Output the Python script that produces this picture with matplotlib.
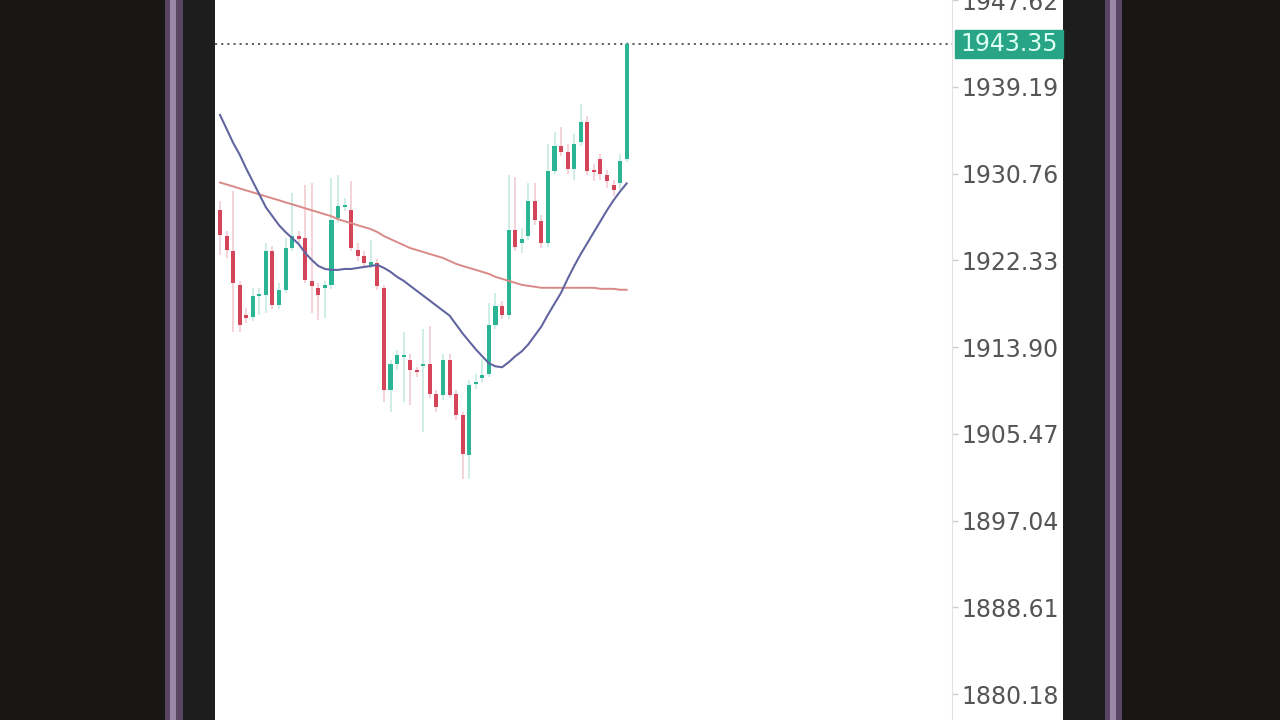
import numpy as np
import matplotlib.pyplot as plt
from matplotlib.patches import Rectangle
import matplotlib.transforms as mtransforms

# candle data, one entry per bar
opens = [1927.19, 1924.68, 1923.23, 1919.95, 1917.05, 1916.86, 1918.89, 1918.99, 1923.23, 1918.02,
         1919.47, 1923.52, 1924.68, 1924.49, 1920.34, 1919.66, 1919.66, 1919.95, 1926.42, 1927.48,
         1927.19, 1923.33, 1922.75, 1921.88, 1922.07, 1919.66, 1909.72, 1912.23, 1912.90, 1912.61,
         1911.65, 1912.03, 1912.23, 1909.33, 1909.24, 1912.61, 1909.33, 1907.31, 1903.44, 1910.30,
         1910.88, 1911.26, 1916.09, 1917.92, 1917.05, 1925.26, 1924.00, 1924.68, 1928.06, 1926.13,
         1924.00, 1931.05, 1933.46, 1932.89, 1931.24, 1933.85, 1935.78, 1931.05, 1932.21, 1930.57,
         1929.60, 1929.80, 1932.21]
closes = [1924.78, 1923.33, 1920.14, 1916.09, 1916.76, 1918.89, 1918.99, 1923.23, 1918.02, 1919.47,
          1923.52, 1924.68, 1924.39, 1920.43, 1919.85, 1918.99, 1919.95, 1926.23, 1927.58, 1927.67,
          1923.52, 1922.75, 1922.07, 1922.17, 1919.85, 1909.72, 1912.23, 1913.10, 1913.10, 1911.65,
          1911.46, 1912.23, 1909.33, 1908.08, 1912.61, 1909.24, 1907.31, 1903.54, 1910.20, 1910.49,
          1911.17, 1916.09, 1917.92, 1917.05, 1925.26, 1923.62, 1924.39, 1928.06, 1926.23, 1924.00,
          1931.05, 1933.46, 1932.89, 1931.24, 1933.66, 1935.78, 1931.05, 1930.95, 1930.76, 1929.99,
          1929.12, 1932.02, 1943.35]
highs = [1928.06, 1925.16, 1929.02, 1920.34, 1917.73, 1919.66, 1919.66, 1924.00, 1923.72, 1920.14,
         1924.49, 1928.83, 1925.16, 1929.60, 1929.80, 1920.14, 1920.34, 1930.28, 1930.57, 1928.35,
         1929.99, 1924.00, 1923.23, 1924.29, 1922.46, 1919.95, 1912.61, 1913.58, 1915.32, 1913.19,
         1911.94, 1915.61, 1915.99, 1909.72, 1913.19, 1913.19, 1909.72, 1907.59, 1910.68, 1911.26,
         1912.71, 1918.21, 1919.18, 1918.41, 1930.57, 1930.47, 1925.45, 1929.80, 1929.80, 1926.71,
         1933.66, 1934.82, 1935.30, 1933.66, 1934.62, 1937.52, 1936.36, 1931.73, 1932.69, 1931.15,
         1930.18, 1932.69, 1943.50]
lows = [1922.85, 1922.56, 1915.32, 1915.32, 1916.28, 1916.48, 1917.05, 1917.25, 1917.63, 1917.63,
        1919.18, 1923.23, 1924.00, 1920.14, 1917.25, 1916.57, 1916.76, 1919.56, 1925.94, 1927.09,
        1923.23, 1922.27, 1921.69, 1921.59, 1919.47, 1908.56, 1907.59, 1911.65, 1908.56, 1908.27,
        1910.97, 1905.66, 1908.95, 1907.59, 1908.75, 1908.95, 1906.82, 1901.13, 1901.13, 1909.81,
        1910.49, 1910.97, 1915.70, 1916.67, 1916.67, 1923.23, 1923.04, 1924.29, 1925.74, 1923.52,
        1923.62, 1930.76, 1932.50, 1930.76, 1930.09, 1933.46, 1930.57, 1929.99, 1930.18, 1929.31,
        1928.54, 1929.22, 1931.92]

# moving averages
ma_fast = [1936.46, 1935.11, 1933.75, 1932.60, 1931.24, 1929.99, 1928.73, 1927.48, 1926.61, 1925.74,
           1925.07, 1924.49, 1923.91, 1923.04, 1922.36, 1921.78, 1921.49, 1921.40, 1921.40, 1921.49,
           1921.49, 1921.59, 1921.69, 1921.78, 1921.88, 1921.59, 1921.21, 1920.72, 1920.34, 1919.85,
           1919.37, 1918.89, 1918.41, 1917.92, 1917.44, 1916.96, 1916.09, 1915.22, 1914.45, 1913.68,
           1913.00, 1912.32, 1912.03, 1911.94, 1912.42, 1913.00, 1913.48, 1914.16, 1915.03, 1915.90,
           1917.05, 1918.12, 1919.18, 1920.53, 1921.78, 1922.94, 1924.00, 1925.07, 1926.13, 1927.19,
           1928.16, 1929.02, 1929.80]
ma_slow = [1929.89, 1929.70, 1929.51, 1929.31, 1929.12, 1928.93, 1928.73, 1928.54, 1928.35, 1928.16,
           1927.96, 1927.77, 1927.58, 1927.38, 1927.19, 1927.00, 1926.80, 1926.61, 1926.32, 1926.13,
           1925.94, 1925.74, 1925.55, 1925.36, 1925.07, 1924.68, 1924.39, 1924.10, 1923.81, 1923.52,
           1923.33, 1923.14, 1922.94, 1922.75, 1922.56, 1922.27, 1921.98, 1921.78, 1921.59, 1921.40,
           1921.21, 1921.01, 1920.72, 1920.53, 1920.34, 1920.14, 1919.95, 1919.85, 1919.76, 1919.66,
           1919.66, 1919.66, 1919.66, 1919.66, 1919.66, 1919.66, 1919.66, 1919.66, 1919.56, 1919.56,
           1919.56, 1919.47, 1919.47]

price_ticks = [1880.18, 1888.61, 1897.04, 1905.47, 1913.90, 1922.33, 1930.76, 1939.19, 1947.62]
last_price = 1943.35

W, H = 1280, 720
fig = plt.figure(figsize=(12.8, 7.2), dpi=100, facecolor='#181716')

# background axes for the phone frame, pixel coords
bg = fig.add_axes([0, 0, 1, 1], zorder=-1)
bg.set_xlim(0, W)
bg.set_ylim(0, H)
bg.axis('off')
frame = [(165, 183, '#5a4464'), (170, 176, '#9b87a8'), (183, 215, '#1d1d1d'),
         (215, 1063, 'white'), (1063, 1105, '#1d1d1d'), (1105, 1122, '#5a4464'),
         (1110, 1116, '#9b87a8')]
for x0, x1, col in frame:
    bg.add_patch(Rectangle((x0, 0), x1 - x0, H, color=col, lw=0))

ax = fig.add_axes([215 / W, 0, (952 - 215) / W, 1])
ax.patch.set_alpha(0)

green = '#2bb594'
red = '#d4455a'
x = np.arange(len(opens))
for i in x:
    o, c, h, l = opens[i], closes[i], highs[i], lows[i]
    col = green if c >= o else red
    ax.vlines(i, l, h, color=col, alpha=0.25, lw=1.3, zorder=2)
    ax.bar(i, max(abs(c - o), 0.15), bottom=min(o, c), width=0.62, color=col,
           edgecolor='none', zorder=3)

ax.plot(x, ma_slow, color='#d98a86', lw=1.4, zorder=4)
ax.plot(x, ma_fast, color='#6266a0', lw=1.5, zorder=4)

# last price dotted line + label
ax.axhline(last_price, color='#555555', lw=1.3, ls=(0, (1.2, 2.2)), zorder=1)
trans = mtransforms.blended_transform_factory(ax.transAxes, ax.transData)
ax.add_patch(Rectangle((1.004, last_price - 1.4), 0.147, 2.8, transform=trans,
                       color='#27a586', clip_on=False, zorder=5))
ax.text(1.077, last_price, f'{last_price:.2f}', transform=trans, ha='center', va='center',
        fontsize=17, color='#dcfff3', zorder=6, clip_on=False)

ax.set_xlim(-0.76, 111.6)
ax.set_ylim(1877.67, 1947.17)
ax.set_xticks([])
ax.yaxis.tick_right()
ax.set_yticks(price_ticks)
ax.set_yticklabels([f'{p:.2f}' for p in price_ticks])
ax.tick_params(axis='y', length=4, width=1, color='#cccccc', labelcolor='#555555',
               labelsize=17, pad=3)
for s in ['top', 'left', 'bottom']:
    ax.spines[s].set_visible(False)
ax.spines['right'].set_color('#e2e2e2')

plt.savefig('out.png', dpi=100, facecolor=fig.get_facecolor())
